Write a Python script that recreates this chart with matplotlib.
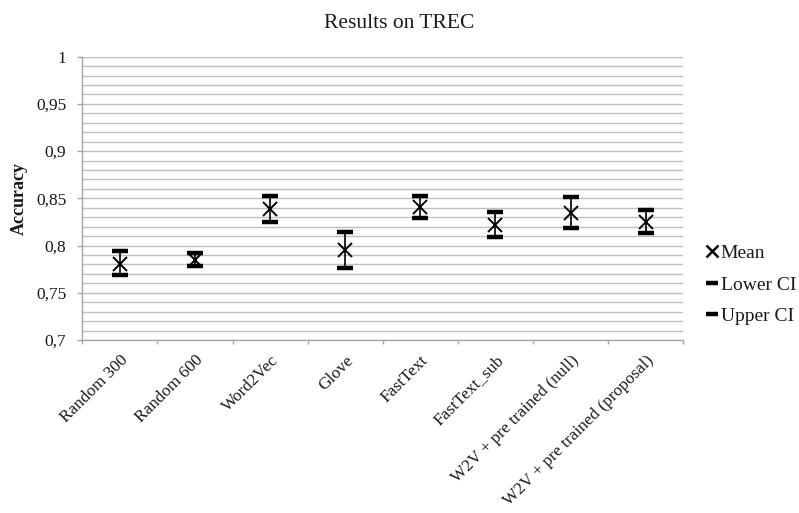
#! /usr/bin/env python3
# -*- coding: utf-8 -*-
"""recreate 'Results on TREC' accuracy chart with confidence intervals"""

import matplotlib
matplotlib.use("Agg")
import matplotlib.pyplot as plt
from matplotlib.lines import Line2D
from matplotlib.ticker import MultipleLocator, FuncFormatter

# -----------------------------------------------------------------------------

# data
models = ["Random 300", "Random 600", "Word2Vec", "Glove", "FastText",
          "FastText_sub", "W2V + pre trained (null)",
          "W2V + pre trained (proposal)"]
mean_acc = [0.780, 0.785, 0.839, 0.795, 0.841, 0.822, 0.835, 0.825]
lower_ci = [0.769, 0.778, 0.825, 0.776, 0.829, 0.809, 0.819, 0.813]
upper_ci = [0.794, 0.792, 0.853, 0.814, 0.853, 0.836, 0.851, 0.838]

# -----------------------------------------------------------------------------

plt.rcParams['font.family'] = ['Liberation Serif', 'DejaVu Serif']
TXT = '#1a1a1a'
GRID = '#bfbfbf'
AXC = '#a6a6a6'

fig = plt.figure(figsize=(7.99, 5.13), dpi=100)
ax = fig.add_axes([0.1030, 0.3372, 0.7522, 0.5523])

x = list(range(len(models)))

# grid lines every 0.01
ax.set_ylim(0.7, 1.0)
ax.yaxis.set_major_locator(MultipleLocator(0.05))
ax.yaxis.set_minor_locator(MultipleLocator(0.01))
ax.grid(True, which='both', axis='y', color=GRID, lw=1.0, zorder=0)
ax.set_axisbelow(True)

# vertical lines between CI limits, then caps and mean
ax.vlines(x, lower_ci, upper_ci, color='black', lw=1.2, zorder=3)
ax.plot(x, lower_ci, ls='none', marker='_', ms=11.5, mew=3.2,
        color='black', zorder=4)
ax.plot(x, upper_ci, ls='none', marker='_', ms=11.5, mew=3.2,
        color='black', zorder=4)
ax.plot(x, mean_acc, ls='none', marker='x', ms=10, mew=1.4,
        color='black', zorder=5)

# x axis: ticks between categories
ax.set_xlim(-0.5, len(models) - 0.5)
ax.set_xticks([i - 0.5 for i in range(len(models) + 1)])
ax.set_xticklabels([])
ax.set_xticks(x, minor=True)
ax.set_xticklabels(models, minor=True, rotation=45, ha='right',
                   rotation_mode='anchor', fontsize=12.4, color=TXT)
ax.tick_params(axis='x', which='major', length=3, color=AXC, width=1)
ax.tick_params(axis='x', which='minor', length=0, pad=9)

ax.yaxis.set_major_formatter(
    FuncFormatter(lambda v, p: ('%g' % round(v, 2)).replace('.', ',')))
ax.tick_params(axis='y', which='major', length=3.5, color=AXC, width=1,
               labelsize=12.5, labelcolor=TXT, pad=8)
ax.tick_params(axis='y', which='minor', length=0)

for s in ['top', 'right']:
    ax.spines[s].set_visible(False)
for s in ['left', 'bottom']:
    ax.spines[s].set_color(AXC)
    ax.spines[s].set_linewidth(1.0)

ax.set_ylabel('Accuracy', fontsize=13, fontweight='bold', color=TXT,
              labelpad=6)
fig.suptitle('Results on TREC', x=0.5, y=0.972, fontsize=15.5, color=TXT)

# legend
handles = [
    Line2D([], [], ls='none', marker='x', ms=8, mew=1.8, color='black'),
    Line2D([], [], ls='none', marker='_', ms=8, mew=3.2, color='black'),
    Line2D([], [], ls='none', marker='_', ms=8, mew=3.2, color='black'),
]
fig.legend(handles, ['Mean', 'Lower CI', 'Upper CI'], loc='center left',
           bbox_to_anchor=(0.879, 0.445), frameon=False, fontsize=14,
           handlelength=0.55, handletextpad=0.2, labelspacing=0.7,
           labelcolor=TXT, borderaxespad=0, borderpad=0.2)

fig.savefig('out.png', dpi=100)
